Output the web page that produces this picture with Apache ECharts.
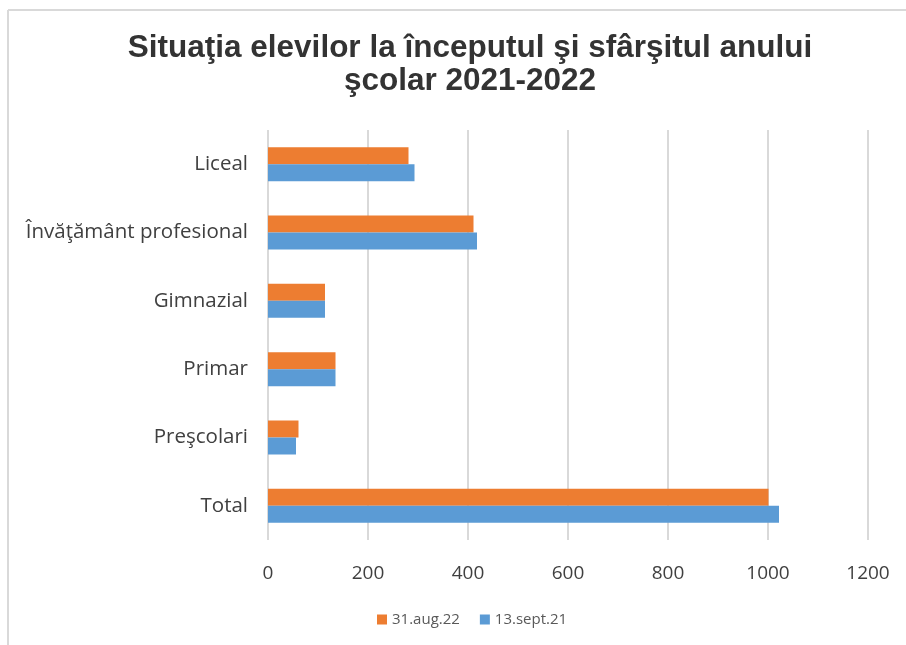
<!DOCTYPE html>
<html>
<head>
<meta charset="utf-8">
<script src="https://cdn.jsdelivr.net/npm/echarts@6/dist/echarts.min.js"></script>
<style>
  html, body { margin: 0; padding: 0; background: #fff; }
  #main { width: 906px; height: 645px; }
</style>
</head>
<body>
<div id="main"></div>
<script>
// categories bottom -> top
var categories = ["Total", "Preşcolari", "Primar", "Gimnazial", "Învăţământ profesional", "Liceal"];
var seriesNames = ["31.aug.22", "13.sept.21"];
var aug22 = [1001, 61, 135, 114, 411, 281];
var sept21 = [1022, 56, 135, 114, 418, 293];
var xTicks = [0, 200, 400, 600, 800, 1000, 1200];

var chart = echarts.init(document.getElementById("main"));
var labelFont = "'Open Sans', Lato, sans-serif";

chart.setOption({
  animation: false,
  title: {
    text: "Situaţia elevilor la începutul şi sfârşitul anului\nşcolar 2021-2022",
    left: 465,
    top: 27,
    textAlign: "center",
    textStyle: {
      fontFamily: "'Liberation Sans', Arial, sans-serif",
      fontSize: 31.5,
      fontWeight: "bold",
      color: "#333333",
      lineHeight: 33
    }
  },
  graphic: [
    { type: "line", shape: { x1: 8, y1: 10, x2: 906, y2: 10 }, style: { stroke: "#d9d9d9", lineWidth: 2 } },
    { type: "line", shape: { x1: 8, y1: 10, x2: 8, y2: 645 }, style: { stroke: "#d9d9d9", lineWidth: 2 } }
  ],
  legend: {
    data: seriesNames,
    bottom: 13,
    left: 372,
    itemWidth: 10,
    itemHeight: 10,
    itemGap: 20,
    icon: "rect",
    textStyle: { fontFamily: labelFont, fontSize: 15, color: "#595959" }
  },
  grid: { left: 268, right: 38, top: 130, bottom: 105 },
  xAxis: {
    type: "value",
    min: xTicks[0],
    max: xTicks[xTicks.length - 1],
    interval: 200,
    axisLine: { show: false },
    axisTick: { show: false },
    axisLabel: {
      fontFamily: labelFont, fontSize: 19, color: "#404040", margin: 24,
      formatter: function (v) { return String(v); }
    },
    splitLine: { lineStyle: { color: "#d9d9d9", width: 2 } }
  },
  yAxis: {
    type: "category",
    data: categories,
    axisLine: { show: false },
    axisTick: { show: false },
    axisLabel: { fontFamily: labelFont, fontSize: 20.5, color: "#404040", margin: 20 }
  },
  series: [
    { name: seriesNames[0], type: "bar", data: aug22, itemStyle: { color: "#ED7D31" }, barWidth: 17, barGap: "0%" },
    { name: seriesNames[1], type: "bar", data: sept21, itemStyle: { color: "#5B9BD5" }, barWidth: 17, barGap: "0%" }
  ]
});
</script>
</body>
</html>
